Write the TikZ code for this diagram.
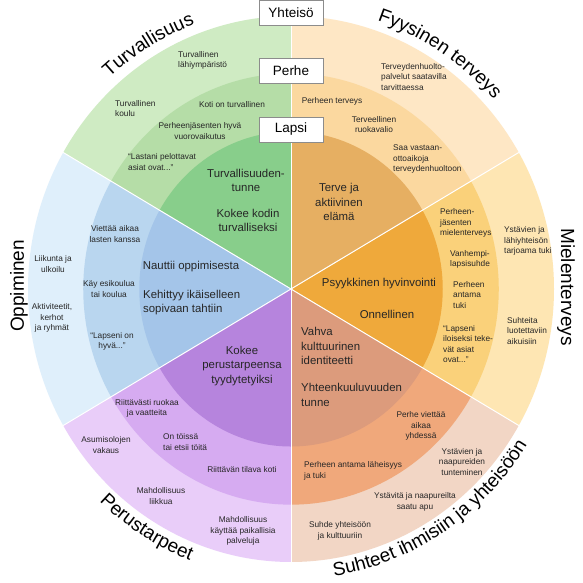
\documentclass[tikz,border=0pt]{standalone}
\usepackage{fontspec}
\setmainfont{Liberation Sans}
\usetikzlibrary{decorations.text}
\definecolor{G1}{HTML}{CFEBC3}\definecolor{G2}{HTML}{B5DDA7}\definecolor{G3}{HTML}{88CE8B}
\definecolor{Y1}{HTML}{FEE7C5}\definecolor{Y2}{HTML}{FBD89F}\definecolor{Y3}{HTML}{E6AF62}
\definecolor{M1}{HTML}{FEE6B3}\definecolor{M2}{HTML}{FAD17A}\definecolor{M3}{HTML}{EFA93B}
\definecolor{S1}{HTML}{F2D6C5}\definecolor{S2}{HTML}{F0A87B}\definecolor{S3}{HTML}{DC9B7C}
\definecolor{P1}{HTML}{E9CDF9}\definecolor{P2}{HTML}{D6ABF1}\definecolor{P3}{HTML}{B684DD}
\definecolor{O1}{HTML}{DFEFFB}\definecolor{O2}{HTML}{B9D6EF}\definecolor{O3}{HTML}{A4C5E9}
\definecolor{txt}{HTML}{262626}
\newcommand{\titlefont}{\fontsize{19}{22}\selectfont}
\tikzset{
  small/.style={font=\fontsize{8.3}{10.6}\selectfont, text=txt, align=center, inner sep=0pt},
  smallL/.style={small, align=left, anchor=west},
  med/.style={font=\fontsize{11.4}{14.5}\selectfont, text=txt, align=center, inner sep=0pt},
  medL/.style={med, align=left, anchor=west},
  ringlabel/.style={draw=black!45, fill=white, line width=0.9pt, minimum width=64pt, minimum height=25pt, inner sep=0pt, font=\fontsize{13.5}{16}\selectfont},
  title/.style={font=\titlefont, inner sep=0pt},
  arctitle/.style={decorate, decoration={text along path, text={|\titlefont|#1}, text align=center}}
}
\begin{document}
\begin{tikzpicture}[x=1pt,y=1pt]
\useasboundingbox (0,0) rectangle (583,583);
\fill[white] (0,0) rectangle (583,583);
\begin{scope}[shift={(291,294)}, x=263pt, y=273pt]
  \foreach \s/\ca/\cb/\cc in {90/G1/G2/G3, 150/O1/O2/O3, 210/P1/P2/P3, 270/S1/S2/S3, 330/M1/M2/M3, 30/Y1/Y2/Y3}{
    \fill[\ca] (0,0) -- (\s:1) arc[start angle=\s, end angle=\s+60, radius=1] -- cycle;
    \fill[\cb] (0,0) -- (\s:0.79) arc[start angle=\s, end angle=\s+60, radius=0.79] -- cycle;
    \fill[\cc] (0,0) -- (\s:0.577) arc[start angle=\s, end angle=\s+60, radius=0.577] -- cycle;
  }
  \foreach \a in {30,90,150,210,270,330}{
    \draw[white, line width=1pt] (0,0) -- (\a:1);
  }
  \path[arctitle=Turvallisuus] (150:1.037) arc[start angle=150, end angle=92, radius=1.037];
  \path[arctitle=Fyysinen terveys] (92:1.037) arc[start angle=92, end angle=22, radius=1.037];
  \path[arctitle=Perustarpeet] (213:1.066) arc[start angle=213, end angle=263, radius=1.066];
  \path[arctitle=Suhteet ihmisiin ja yhteisöön] (265:1.064) arc[start angle=265, end angle=341, radius=1.064];
\end{scope}
\node[title, rotate=-90] (tmiel) at (566,296) {Mielenterveys};
\node[title, rotate=90] (topp) at (19,297) {Oppiminen};
% ring labels
\node[ringlabel] (yht) at (291,570) {Yhteisö};
\node[ringlabel] (perhe) at (291,512.5) {Perhe};
\node[ringlabel] (lapsi) at (291,453.5) {Lapsi};
% Turvallisuus
\node[smallL] (g1) at (178,522.5) {Turvallinen\\lähiympäristö};
\node[smallL] (g2) at (115,474.5) {Turvallinen\\koulu};
\node[small] (g3) at (232,478) {Koti on turvallinen};
\node[small] (g4) at (200,452) {Perheenjäsenten hyvä\\vuorovaikutus};
\node[smallL] (g5) at (128,421) {“Lastani pelottavat\\asiat ovat...”};
\node[med] (g6) at (246,402.5) {Turvallisuuden-\\tunne};
\node[med] (g7) at (248,362.5) {Kokee kodin\\turvalliseksi};
% Fyysinen terveys
\node[smallL] (y1) at (381,506) {Terveydenhuolto-\\palvelut saatavilla\\tarvittaessa};
\node[small] (y2) at (332,482) {Perheen terveys};
\node[small] (y3) at (374,458.5) {Terveellinen\\ruokavalio};
\node[smallL] (y4) at (393,424) {Saa vastaan-\\ottoaikoja\\terveydenhuoltoon};
\node[med] (y5) at (339,381) {Terve ja\\aktiivinen\\elämä};
% Mielenterveys
\node[smallL] (m1) at (440,360) {Perheen-\\jäsenten\\mielenterveys};
\node[smallL] (m2) at (450,323.5) {Vanhempi-\\lapsisuhde};
\node[smallL] (m3) at (453,288) {Perheen\\antama\\tuki};
\node[smallL] (m4) at (443,239) {“Lapseni\\iloiseksi teke-\\vät asiat\\ovat...”};
\node[smallL] (m5) at (504,342) {Ystävien ja\\lähiyhteisön\\tarjoama tuki};
\node[smallL] (m6) at (507,252) {Suhteita\\luotettaviin\\aikuisiin};
\node[med] (m7) at (379,299) {Psyykkinen hyvinvointi};
\node[med] (m8) at (387,269) {Onnellinen};
% Suhteet
\node[medL] (s1) at (301,237) {Vahva\\kulttuurinen\\identiteetti};
\node[medL] (s2) at (301,188) {Yhteenkuuluvuuden\\tunne};
\node[small] (s3) at (421,157) {Perhe viettää\\aikaa\\yhdessä};
\node[small] (s4) at (462,121) {Ystävien ja\\naapureiden\\tunteminen};
\node[smallL] (s5) at (304,112) {Perheen antama läheisyys\\ja tuki};
\node[small] (s6) at (415,81) {Ystävitä ja naapureilta\\saatu apu};
\node[small] (s7) at (340,52) {Suhde yhteisöön\\ja kulttuuriin};
% Perustarpeet
\node[med] (p1) at (242,217) {Kokee\\perustarpeensa\\tyydytetyiksi};
\node[small] (p2) at (147,174.5) {Riittävästi ruokaa\\ja vaatteita};
\node[smallL] (p3) at (163,141) {On töissä\\tai etsii töitä};
\node[small] (p4) at (106,138) {Asumisolojen\\vakaus};
\node[small] (p5) at (242,113) {Riittävän tilava koti};
\node[small] (p6) at (161,87) {Mahdollisuus\\liikkua};
\node[small] (p7) at (243,52) {Mahdollisuus\\käyttää paikallisia\\palveluja};
% Oppiminen
\node[small] (o1) at (115,349) {Viettää aikaa\\lasten kanssa};
\node[small] (o2) at (53,319) {Liikunta ja\\ulkoilu};
\node[small] (o3) at (109,294) {Käy esikoulua\\tai koulua};
\node[med] (o4) at (191,316) {Nauttii oppimisesta};
\node[medL] (o5) at (143,280.5) {Kehittyy ikäiselleen\\sopivaan tahtiin};
\node[small] (o6) at (52,265) {Aktiviteetit,\\kerhot\\ja ryhmät};
\node[small] (o7) at (112,241.5) {“Lapseni on\\hyvä...”};
\end{tikzpicture}
\end{document}
